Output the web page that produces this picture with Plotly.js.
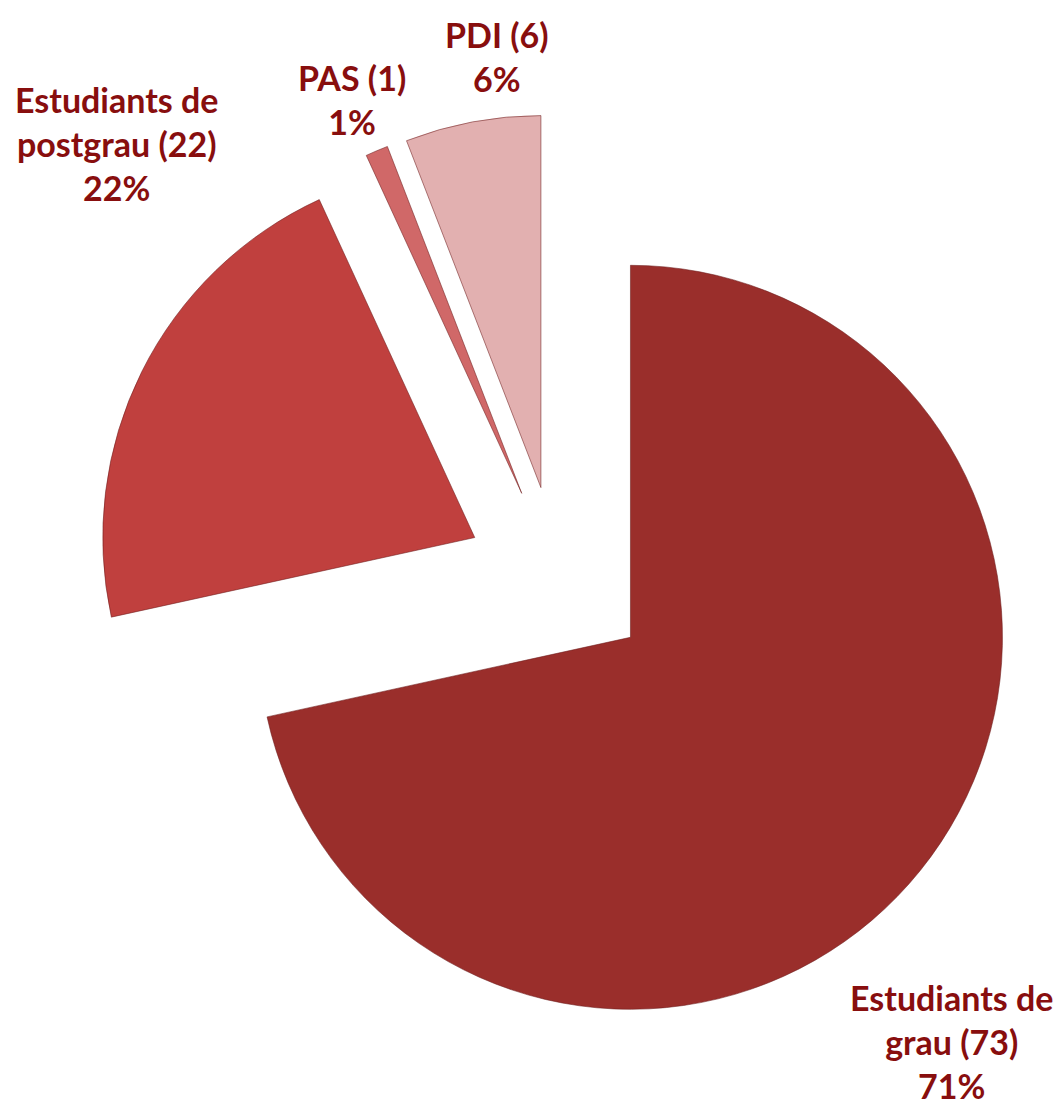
<!DOCTYPE html>
<html>
<head>
<meta charset="utf-8">
<script src="https://cdn.plot.ly/plotly-3.0.1.min.js"></script>
<style>html,body{margin:0;padding:0;background:#fff;}#chart{width:1061px;height:1109px;}</style>
</head>
<body>
<div id="chart"></div>
<script>
// Data
const categories = ["Estudiants de grau", "Estudiants de postgrau", "PAS", "PDI"];
const labelLines = ["Estudiants de<br>grau", "Estudiants de<br>postgrau", "PAS", "PDI"];
const counts = [73, 22, 1, 6];
const percentLabels = ["71%", "22%", "1%", "6%"];
const sliceColors = ["#9a2e2b", "#c0403e", "#d06868", "#e2b0b0"];

// label anchor positions (paper coords)
const labelPos = [[0.9237, 0.003], [0.0258, 0.9688], [0.2785, 1.0151], [0.4344, 1.0613]];

const annotations = categories.map((c, i) => ({
  xref: "paper", yref: "paper",
  x: labelPos[i][0], y: labelPos[i][1],
  xanchor: "center", yanchor: "middle",
  text: "<b>" + labelLines[i] + " (" + counts[i] + ")<br>" + percentLabels[i] + "</b>",
  showarrow: false,
  align: "center",
  font: {family: "Lato, 'Open Sans', sans-serif", size: 34, color: "#880e0e"}
}));

const trace = {
  type: "pie",
  labels: categories,
  values: counts,
  sort: false,
  direction: "clockwise",
  rotation: 0,
  pull: [0.25, 0.25, 0.25, 0.25],
  marker: {colors: sliceColors, line: {color: "rgba(110,30,30,0.55)", width: 1}},
  textinfo: "none",
  hoverinfo: "label+value+percent",
  showlegend: false
};

const layout = {
  width: 1061, height: 1109,
  margin: {l: 93, r: 38, t: 114, b: 65},
  paper_bgcolor: "#ffffff",
  plot_bgcolor: "#ffffff",
  showlegend: false,
  annotations: annotations
};

Plotly.newPlot("chart", [trace], layout, {displayModeBar: false, staticPlot: true});
</script>
</body>
</html>
